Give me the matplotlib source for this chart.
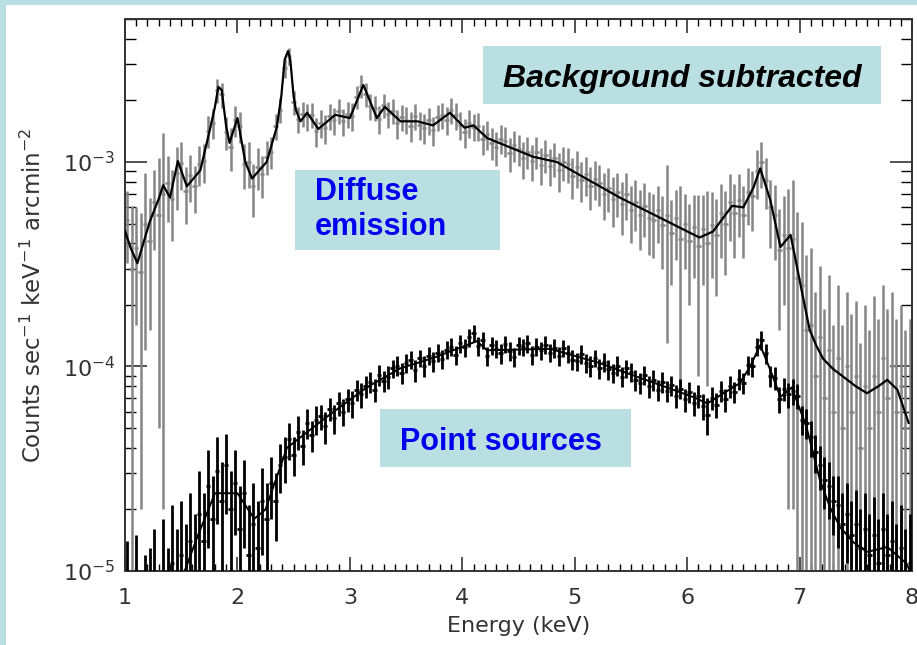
import numpy as np
import matplotlib
matplotlib.use("Agg")
import matplotlib.pyplot as plt
from matplotlib.patches import Rectangle
from matplotlib.ticker import MultipleLocator, LogLocator, NullFormatter

# ---------------------------------------------------------------------------
# Spectra.  Diffuse values are in units of 1e-5, point-source values in 1e-6
# counts sec^-1 keV^-1 arcmin^-2.  Bins are 0.04 keV wide.
# ---------------------------------------------------------------------------
bin_energy = np.round(np.arange(1.02, 8.0, 0.04), 2)
bin_half_width = 0.02

diffuse_rate = [
    52, 30, 38, 29, 50, 41, 64, 55, 70, 79,
    66, 88, 99, 72, 86, 76, 98, 101, 142, 155,
    225, 214, 140, 118, 160, 150, 98, 100, 76, 95,
    87, 106, 112, 150, 180, 288, 330, 196, 162, 172,
    167, 170, 141, 155, 146, 168, 160, 178, 158, 172,
    168, 208, 235, 214, 188, 184, 162, 190, 171, 178,
    155, 166, 161, 150, 168, 152, 147, 160, 143, 165,
    170, 161, 180, 169, 152, 140, 155, 149, 150, 130,
    137, 124, 118, 130, 127, 110, 121, 116, 104, 112,
    101, 112, 97, 108, 96, 104, 91, 100, 98, 85,
    94, 82, 87, 76, 83, 79, 70, 75, 66, 71,
    62, 70, 58, 64, 55, 61, 53, 52, 58, 49,
    55, 45, 53, 42, 50, 41, 48, 39, 47, 40,
    49, 44, 56, 50, 64, 56, 65, 55, 71, 68,
    90, 100, 82, 60, 55, 37, 44, 38, 42, 27,
    25, 15, 16, 9, 14, 7, 12, 6, 11, 5,
    10, 6, 9, 4, 8, 5, 9, 6, 11, 7,
    10, 6, 8, 5, 6,
]
diffuse_err = [
    20, 31, 22, 27, 38, 26, 27, 50, 68, 28,
    25, 30, 26, 22, 22, 20, 22, 22, 25, 26,
    30, 30, 26, 28, 28, 26, 24, 25, 22, 22,
    20, 20, 20, 22, 25, 30, 32, 26, 24, 24,
    25, 24, 23, 24, 23, 24, 24, 25, 24, 25,
    26, 27, 30, 29, 27, 26, 25, 26, 25, 25,
    25, 24, 24, 25, 24, 24, 24, 24, 23, 24,
    25, 25, 26, 25, 24, 23, 24, 23, 23, 22,
    22, 22, 22, 21, 21, 21, 21, 20, 21, 20,
    20, 20, 20, 20, 20, 20, 20, 19, 19, 19,
    19, 18, 19, 18, 18, 18, 18, 18, 18, 17,
    18, 18, 18, 18, 18, 18, 18, 18, 18, 19,
    42, 20, 20, 34, 20, 21, 21, 30, 22, 32,
    22, 22, 22, 22, 23, 22, 22, 21, 22, 22,
    24, 25, 23, 22, 22, 22, 24, 36, 40, 30,
    26, 20, 22, 14, 17, 12, 16, 10, 14, 11,
    13, 12, 12, 9, 12, 10, 13, 11, 14, 12,
    13, 11, 12, 10, 11,
]

point_rate = [
    6, 3, 7, 2, 5, 4, 8, 3, 9, 5,
    11, 7, 12, 8, 14, 10, 19, 14, 26, 18,
    31, 22, 33, 20, 27, 16, 24, 12, 17, 13,
    22, 18, 27, 22, 33, 36, 44, 37, 48, 41,
    53, 46, 55, 57, 51, 62, 56, 66, 60, 69,
    66, 77, 73, 80, 84, 77, 91, 85, 89, 98,
    101, 93, 104, 108, 96, 110, 101, 113, 106, 117,
    109, 121, 125, 114, 130, 124, 139, 145, 126, 135,
    113, 127, 122, 116, 129, 119, 111, 127, 124, 130,
    114, 125, 120, 128, 117, 123, 112, 123, 116, 108,
    106, 115, 104, 101, 110, 98, 105, 97, 93, 101,
    89, 98, 94, 86, 83, 91, 80, 86, 77, 84,
    76, 81, 72, 78, 69, 75, 66, 72, 64, 58,
    70, 65, 76, 69, 80, 75, 87, 83, 102, 100,
    125, 135, 116, 90, 88, 69, 78, 73, 76, 72,
    55, 53, 45, 38, 33, 28, 26, 22, 21, 17,
    19, 15, 17, 13, 16, 12, 15, 11, 16, 12,
    14, 10, 13, 9, 11,
]
point_err = [
    8, 6, 8, 5, 7, 9, 8, 7, 9, 8,
    10, 9, 10, 9, 10, 9, 12, 10, 13, 11,
    14, 12, 14, 11, 12, 10, 11, 9, 10, 9,
    10, 9, 9, 8, 9, 9, 9, 8, 9, 8,
    9, 8, 9, 8, 9, 8, 9, 9, 9, 9,
    10, 9, 10, 10, 10, 10, 11, 10, 11, 10,
    11, 11, 11, 11, 12, 11, 12, 11, 12, 12,
    12, 12, 13, 12, 13, 13, 14, 14, 13, 13,
    12, 13, 12, 13, 12, 13, 12, 13, 12, 13,
    12, 13, 12, 13, 12, 13, 12, 12, 12, 12,
    11, 12, 11, 12, 11, 11, 11, 11, 10, 11,
    10, 10, 10, 10, 10, 10, 10, 10, 9, 10,
    9, 9, 9, 9, 9, 9, 9, 9, 9, 12,
    9, 9, 9, 9, 10, 9, 10, 10, 11, 11,
    13, 14, 13, 11, 11, 10, 10, 10, 11, 10,
    9, 9, 9, 8, 8, 8, 8, 7, 8, 7,
    8, 7, 8, 7, 8, 7, 8, 7, 8, 7,
    8, 7, 8, 7, 8,
]

# Best-fit models
diffuse_model_energy = [
    1.00, 1.05, 1.11, 1.18, 1.22, 1.30, 1.34, 1.40, 1.47, 1.55, 1.67, 1.76,
    1.80, 1.83, 1.86, 1.90, 1.93, 2.00, 2.07, 2.13, 2.26, 2.35, 2.39, 2.42,
    2.45, 2.47, 2.50, 2.52, 2.56, 2.62, 2.72, 2.87, 3.00, 3.12, 3.24, 3.31,
    3.45, 3.60, 3.74, 3.89, 4.02, 4.10, 4.22, 4.63, 4.84, 5.05, 5.40, 6.11,
    6.23, 6.40, 6.50, 6.59, 6.65, 6.74, 6.83, 6.92, 7.03, 7.09, 7.15, 7.21,
    7.30, 7.39, 7.50, 7.60, 7.70, 7.78, 7.87, 7.97,
]
diffuse_model_rate = [
    46, 38, 32, 43, 51, 66, 77, 67, 101, 76, 91, 148,
    186, 233, 225, 149, 124, 164, 100, 83, 100, 148, 209, 316,
    349, 316, 209, 180, 158, 174, 145, 170, 164, 238, 164, 186,
    158, 158, 151, 174, 147, 151, 131, 106, 100, 86, 67, 42.7,
    45.7, 61, 60, 75, 93, 65, 38.4, 44, 21.9, 15.1, 12.6, 10.9,
    9.7, 8.9, 8.0, 7.4, 8.0, 8.6, 7.7, 5.3,
]
point_model_energy = [
    1.00, 1.30, 1.50, 1.65, 1.80, 2.00, 2.15, 2.25, 2.44, 2.80, 3.15, 3.45,
    3.74, 4.13, 4.22, 4.78, 5.22, 5.58, 5.82, 6.05, 6.18, 6.47, 6.56, 6.65,
    6.74, 6.83, 6.93, 7.06, 7.18, 7.27, 7.36, 7.48, 7.60, 7.78, 7.95, 8.00,
]
point_model_rate = [
    2, 5, 9, 15, 24, 24, 18, 20, 40, 57, 79, 98,
    110, 133, 120, 122, 104, 88, 79, 71, 66, 83, 100, 127,
    96, 71, 79, 51, 28, 20.5, 16.4, 13.8, 12.4, 13.1, 10.9, 9.5,
]

x_ticks = [1, 2, 3, 4, 5, 6, 7, 8]
y_ticks = [1e-5, 1e-4, 1e-3]
y_tick_labels = [r"10$^{-5}$", r"10$^{-4}$", r"10$^{-3}$"]

BORDER = "#b9dfe3"
BOX = "#b9dfe3"
AXIS_INK = "#333333"

plt.rcParams["font.family"] = ["DejaVu Sans"]
plt.rcParams["mathtext.fontset"] = "dejavusans"

W, H = 917, 645
fig = plt.figure(figsize=(W / 100, H / 100), dpi=100)
fig.patch.set_facecolor(BORDER)


def fx(px):
    return px / W


def fy(py):
    return 1 - py / H


# white panel inside the border
fig.add_artist(Rectangle((fx(6), 0), 1 - fx(6), fy(5), transform=fig.transFigure,
                         facecolor="white", edgecolor="none", zorder=0))

ax = fig.add_axes([fx(125), fy(571), fx(912) - fx(125), fy(19) - fy(571)])
ax.set_facecolor("white")


def draw_spectrum(rate, err, unit, color, lw, z):
    r = np.asarray(rate, float) * unit
    e = np.asarray(err, float) * unit
    low = np.maximum(r - e, 1e-9)
    ax.errorbar(bin_energy, r, yerr=[r - low, e], xerr=bin_half_width,
                fmt="none", ecolor=color, elinewidth=lw, capsize=0, zorder=z)


draw_spectrum(diffuse_rate, diffuse_err, 1e-5, "#858585", 1.8, 2)
draw_spectrum(point_rate, point_err, 1e-6, "#000000", 2.0, 3)

ax.plot(diffuse_model_energy, np.asarray(diffuse_model_rate) * 1e-5,
        color="black", lw=1.6, zorder=4)
ax.plot(point_model_energy, np.asarray(point_model_rate) * 1e-6,
        color="black", lw=1.4, zorder=4)

ax.set_yscale("log")
ax.set_xlim(1, 8)
ax.set_ylim(1e-5, 5e-3)

ax.set_xticks(x_ticks)
ax.set_xticklabels([str(t) for t in x_ticks])
ax.xaxis.set_minor_locator(MultipleLocator(0.1))
ax.set_yticks(y_ticks)
ax.set_yticklabels(y_tick_labels)
ax.yaxis.set_minor_locator(LogLocator(base=10, subs=range(2, 10)))
ax.yaxis.set_minor_formatter(NullFormatter())

ax.tick_params(axis="x", which="major", direction="in", length=10, width=1.2,
               top=True, bottom=True, pad=12, labelsize=16, colors=AXIS_INK)
ax.tick_params(axis="x", which="minor", direction="in", length=5, width=1.0,
               top=True, bottom=True)
ax.tick_params(axis="y", which="major", direction="in", length=16, width=1.2,
               left=True, right=True, pad=7, labelsize=16, colors=AXIS_INK)
ax.tick_params(axis="y", which="minor", direction="in", length=8, width=1.0,
               left=True, right=True)
for sp in ax.spines.values():
    sp.set_linewidth(1.4)
    sp.set_color(AXIS_INK)

ax.set_xlabel("Energy (keV)", fontsize=16, color=AXIS_INK, labelpad=6)
ax.set_ylabel(r"Counts sec$^{-1}$ keV$^{-1}$ arcmin$^{-2}$", fontsize=16.5,
              color=AXIS_INK, labelpad=12)


def label_box(x0, y0, x1, y1):
    fig.add_artist(Rectangle((fx(x0), fy(y1)), fx(x1) - fx(x0), fy(y0) - fy(y1),
                             transform=fig.transFigure, facecolor=BOX,
                             edgecolor="none", zorder=5))


label_box(483, 46, 881, 104)
fig.text(fx(682), fy(87), "Background subtracted", ha="center", va="baseline",
         fontsize=23, fontweight="bold", fontstyle="italic",
         family=["Liberation Sans", "DejaVu Sans"], color="black", zorder=6)

label_box(295, 170, 500, 250)
fig.text(fx(315), fy(200), "Diffuse", ha="left", va="baseline", fontsize=22,
         fontweight="bold", family=["Liberation Sans", "DejaVu Sans"],
         color="#0000ee", zorder=6)
fig.text(fx(315), fy(235), "emission", ha="left", va="baseline", fontsize=22,
         fontweight="bold", family=["Liberation Sans", "DejaVu Sans"],
         color="#0000ee", zorder=6)

label_box(380, 409, 631, 467)
fig.text(fx(400), fy(450), "Point sources", ha="left", va="baseline",
         fontsize=22, fontweight="bold", family=["Liberation Sans", "DejaVu Sans"],
         color="#0000ee", zorder=6)

fig.savefig("out.png", dpi=100, facecolor=fig.get_facecolor())
